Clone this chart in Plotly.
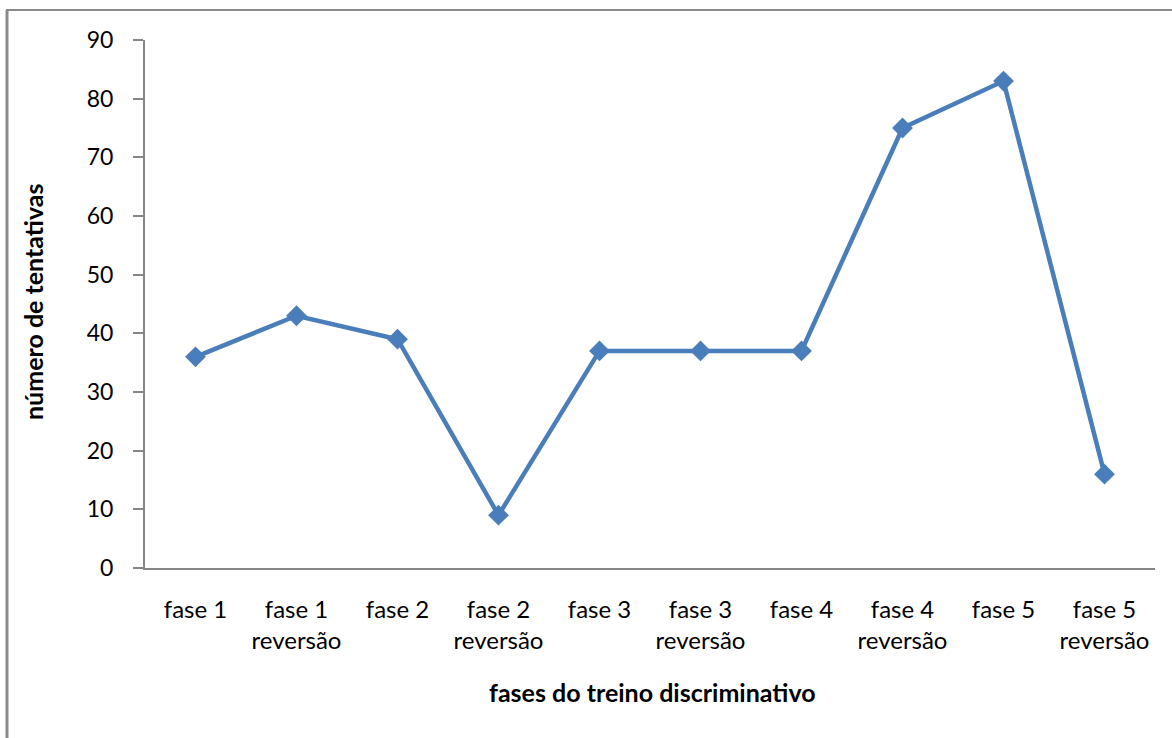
import plotly.graph_objects as go

categories = ["fase 1", "fase 1<br>reversão", "fase 2", "fase 2<br>reversão", "fase 3",
              "fase 3<br>reversão", "fase 4", "fase 4<br>reversão", "fase 5", "fase 5<br>reversão"]
values = [36, 43, 39, 9, 37, 37, 37, 75, 83, 16]
y_ticks = [0, 10, 20, 30, 40, 50, 60, 70, 80, 90]

W, H = 1172, 738
L, R, T, B = 145, 17, 40, 170
pw, ph = W - L - R, H - T - B

def px(x):
    return (x - L) / pw

def py(y):
    return (H - B - y) / ph

FONT = "Lato"
BLUE = "#4a7ebb"
GRAY = "#868686"

fig = go.Figure()
fig.add_trace(go.Scatter(
    x=list(range(len(categories))), y=values, mode="lines+markers",
    line=dict(color=BLUE, width=4.5),
    marker=dict(symbol="diamond", size=16, color=BLUE),
    showlegend=False,
))

fig.update_layout(
    width=W, height=H,
    margin=dict(l=L, r=R, t=T, b=B),
    paper_bgcolor="white", plot_bgcolor="white",
    font=dict(family=FONT, size=23, color="black"),
    xaxis=dict(
        range=[-0.5, len(categories) - 0.5],
        tickmode="array", tickvals=list(range(len(categories))), ticktext=categories,
        showgrid=False, zeroline=False,
        showline=True, linecolor=GRAY, linewidth=2,
        ticks="", ticklabelstandoff=19,
        tickfont=dict(family=FONT, size=24, color="black"),
    ),
    yaxis=dict(
        range=[0, 90], tickmode="array", tickvals=y_ticks,
        showgrid=False, zeroline=False,
        showline=True, linecolor=GRAY, linewidth=2,
        ticks="outside", ticklen=10, tickcolor=GRAY, tickwidth=2,
        ticklabelstandoff=15,
        tickfont=dict(family=FONT, size=23, color="black"),
    ),
    shapes=[
        dict(type="line", xref="paper", yref="paper",
             x0=px(7), x1=px(7), y0=py(H + 5), y1=py(10),
             line=dict(color="#8a8a8a", width=3)),
        dict(type="line", xref="paper", yref="paper",
             x0=px(6), x1=px(W + 5), y0=py(10), y1=py(10),
             line=dict(color="#8a8a8a", width=2)),
        dict(type="line", xref="paper", yref="paper",
             x0=px(135), x1=px(145), y0=0, y1=0,
             line=dict(color=GRAY, width=2)),
    ],
    annotations=[
        dict(text="<b>fases do treino discriminativo</b>", xref="paper", yref="paper",
             x=px(652), y=py(692), xanchor="center", yanchor="middle",
             showarrow=False, font=dict(family=FONT, size=25, color="black")),
        dict(text="<b>número de tentativas</b>", xref="paper", yref="paper",
             x=px(33), y=py(302), xanchor="center", yanchor="middle", textangle=-90,
             showarrow=False, font=dict(family=FONT, size=25, color="black")),
    ],
)

fig.write_html("out.html", config={"displayModeBar": False},
               post_script="document.body.style.margin='0';")
